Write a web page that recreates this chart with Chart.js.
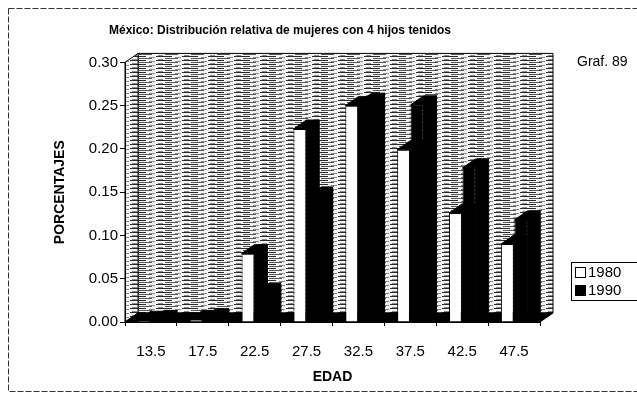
<!DOCTYPE html>
<html>
<head>
<meta charset="utf-8">
<script src="https://cdn.jsdelivr.net/npm/chart.js@4/dist/chart.umd.min.js"></script>
<style>
  html, body { margin: 0; padding: 0; background: #fff; }
  #wrap { width: 637px; height: 400px; }
</style>
</head>
<body>
<div id="wrap"><canvas id="diagram1" width="637" height="400"></canvas></div>
<script>
const edades = ["13.5", "17.5", "22.5", "27.5", "32.5", "37.5", "42.5", "47.5"];
const valores1980 = [0.002, 0.003, 0.079, 0.223, 0.250, 0.199, 0.126, 0.090];
const valores1990 = [0.003, 0.005, 0.034, 0.145, 0.254, 0.251, 0.178, 0.118];
const series = ["1980", "1990"];

// depth of the fake 3D
const DX = 13, DY = 9;
const FONT = 'Arial, "Liberation Sans", sans-serif';

function texture() {
    const c = document.createElement('canvas');
    c.width = 26; c.height = 4;
    const g = c.getContext('2d');
    g.fillStyle = '#f4f4f4';
    g.fillRect(0, 0, 26, 4);
    g.fillStyle = '#2a2a2a';
    g.fillRect(0, 0, 16, 1);
    g.fillStyle = '#555';
    g.fillRect(9, 2, 13, 1);
    g.fillStyle = '#888';
    g.fillRect(19, 1, 6, 1);
    g.fillRect(2, 3, 5, 1);
    return g.createPattern(c, 'repeat');
}

function poly(ctx, pts, fill, stroke) {
    ctx.beginPath();
    ctx.moveTo(pts[0][0], pts[0][1]);
    for (let i = 1; i < pts.length; i++) ctx.lineTo(pts[i][0], pts[i][1]);
    ctx.closePath();
    if (fill) { ctx.fillStyle = fill; ctx.fill(); }
    if (stroke) { ctx.strokeStyle = stroke; ctx.lineWidth = 1; ctx.stroke(); }
}

const decor = {
    id: 'decor',
    beforeDraw(chart) {
        const ctx = chart.ctx;
        ctx.save();
        ctx.setLineDash([6, 2]);
        ctx.strokeStyle = '#333';
        ctx.lineWidth = 1;
        ctx.strokeRect(8.5, 8.5, 640, 383);
        ctx.setLineDash([]);

        const a = chart.chartArea;
        const pat = texture();
        // back wall
        poly(ctx, [[a.left + DX, a.top - DY], [a.right + DX, a.top - DY], [a.right + DX, a.bottom - DY], [a.left + DX, a.bottom - DY]], pat, '#000');
        // left wall
        poly(ctx, [[a.left, a.top], [a.left + DX, a.top - DY], [a.left + DX, a.bottom - DY], [a.left, a.bottom]], pat, '#000');
        // floor
        poly(ctx, [[a.left, a.bottom], [a.left + DX, a.bottom - DY], [a.right + DX, a.bottom - DY], [a.right, a.bottom]], '#000', '#000');
        ctx.restore();
    },
    beforeDatasetsDraw(chart) {
        const ctx = chart.ctx;
        ctx.save();
        for (let d = chart.data.datasets.length - 1; d >= 0; d--) {
            chart.getDatasetMeta(d).data.forEach(bar => {
                const l = bar.x - bar.width / 2, r = bar.x + bar.width / 2;
                poly(ctx, [[l, bar.y], [l + DX, bar.y - DY], [r + DX, bar.y - DY], [r, bar.y]], '#000', '#000');
                poly(ctx, [[r, bar.y], [r + DX, bar.y - DY], [r + DX, bar.base - DY], [r, bar.base]], '#000', '#000');
            });
        }
        ctx.restore();
    },
    afterDraw(chart) {
        const ctx = chart.ctx;
        const a = chart.chartArea;
        ctx.save();
        ctx.fillStyle = '#000';
        ctx.textBaseline = 'middle';

        ctx.font = 'bold 14px ' + FONT;
        ctx.textAlign = 'center';
        ctx.fillText('EDAD', (a.left + a.right) / 2, 377);
        ctx.textAlign = 'left';

        ctx.font = '14px ' + FONT;
        ctx.fillText('Graf. 89', 577, 62);

        // legend
        ctx.strokeStyle = '#000';
        ctx.lineWidth = 1;
        ctx.strokeRect(571.5, 262.5, 80, 38);
        ctx.font = '15px ' + FONT;
        chart.data.datasets.forEach((ds, i) => {
            const y = 273 + i * 18;
            ctx.fillStyle = ds.backgroundColor;
            ctx.fillRect(575.5, y - 5.5, 10, 10);
            ctx.strokeRect(575.5, y - 5.5, 10, 10);
            ctx.fillStyle = '#000';
            ctx.fillText(ds.label, 588, y);
        });
        ctx.restore();
    }
};

new Chart(
    document.getElementById("diagram1"),
    {
        type: 'bar',
        data: {
            labels: edades,
            datasets: [
                {
                    label: series[0],
                    data: valores1980,
                    backgroundColor: '#ffffff',
                    borderColor: '#000000',
                    borderWidth: 1,
                    categoryPercentage: 0.52,
                    barPercentage: 0.95
                },
                {
                    label: series[1],
                    data: valores1990,
                    backgroundColor: '#000000',
                    borderColor: '#000000',
                    borderWidth: 1,
                    categoryPercentage: 0.52,
                    barPercentage: 0.95
                }
            ]
        },
        options: {
            responsive: false,
            animation: false,
            layout: {
                padding: { left: 20, right: 97, top: 13, bottom: 22 }
            },
            plugins: {
                legend: { display: false },
                tooltip: { enabled: false },
                title: {
                    display: true,
                    text: 'México: Distribución relativa de mujeres con 4 hijos tenidos',
                    color: '#000',
                    font: { family: FONT, size: 12, weight: 'bold' },
                    padding: { top: 10, bottom: 25 }
                }
            },
            scales: {
                x: {
                    grid: { display: true, drawOnChartArea: false, color: '#000', tickLength: 4 },
                    border: { display: true, color: '#000' },
                    ticks: {
                        color: '#000',
                        font: { family: FONT, size: 15 },
                        padding: 17,
                        maxRotation: 0
                    }
                },
                y: {
                    min: 0,
                    max: 0.3,
                    afterFit: scale => { scale.width = 105; },
                    grid: { display: true, drawOnChartArea: false, color: '#000', tickLength: 5 },
                    border: { display: true, color: '#000' },
                    ticks: {
                        stepSize: 0.05,
                        color: '#000',
                        font: { family: FONT, size: 15 },
                        padding: 2,
                        callback: v => Number(v).toFixed(2)
                    },
                    title: {
                        display: true,
                        text: 'PORCENTAJES',
                        color: '#000',
                        font: { family: FONT, size: 14, weight: 'bold' },
                        padding: { top: 32, bottom: 0 }
                    }
                }
            }
        },
        plugins: [decor]
    }
);
</script>
</body>
</html>
